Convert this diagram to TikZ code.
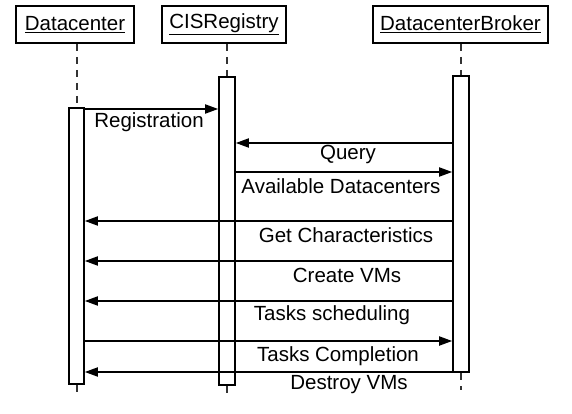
\documentclass[tikz,border=0pt]{standalone}
\usepackage{fontspec}
\setmainfont{Liberation Sans}
\usetikzlibrary{arrows.meta}
\begin{document}
\begin{tikzpicture}[x=1pt,y=-1pt,
  every node/.style={font=\fontsize{20.5}{24}\selectfont, inner sep=0pt},
  head/.style={draw, line width=2.6pt, minimum height=37pt},
  act/.style={draw, line width=1.6pt, fill=white, minimum width=15pt},
  life/.style={line width=1.2pt, dash pattern=on 7pt off 6pt, draw=black!80},
  msg/.style={line width=1.8pt, -{Triangle[length=13pt,width=9pt]}},
  lbl/.style={anchor=base}]
\useasboundingbox (0,0) rectangle (572,414);
% headers
\node[head, minimum width=118pt] (dch) at (75,24.5) {\underline{Datacenter}};
\node[head, minimum width=124pt] (cish) at (224,24.5) {\underline{CISRegistry}};
\node[head, minimum width=175pt] (brh) at (460.5,24.5) {\underline{DatacenterBroker}};
% lifeline ends
\coordinate (dcend) at (77,396);
\coordinate (cisend) at (227,393);
\coordinate (brend) at (461,390);
% lifelines
\draw[life] (77,44) -- (77,108);
\draw[life] (227,44) -- (227,77);
\draw[life] (461,44) -- (461,76);
\draw[life] (77,385) -- (dcend);
\draw[life] (227,386) -- (cisend);
\draw[life] (461,373) -- (brend);
% activations
\node[act, minimum height=276pt] (dca) at (76.5,246) {};
\node[act, minimum width=16pt, minimum height=308pt] (cisa) at (227,231) {};
\node[act, minimum width=16pt, minimum height=296pt] (bra) at (461,224) {};
% message levels
\coordinate (y1) at (0,109);
\coordinate (y2) at (0,143);
\coordinate (y3) at (0,172);
\coordinate (y4) at (0,221);
\coordinate (y5) at (0,261);
\coordinate (y6) at (0,301);
\coordinate (y7) at (0,341);
\coordinate (y8) at (0,372);
% messages
\draw[msg] (dca.east |- y1) -- (cisa.west |- y1);
\draw[msg] (bra.west |- y2) -- (cisa.east |- y2);
\draw[msg] (cisa.east |- y3) -- (bra.west |- y3);
\draw[msg] (bra.west |- y4) -- (dca.east |- y4);
\draw[msg] (bra.west |- y5) -- (dca.east |- y5);
\draw[msg] (bra.west |- y6) -- (dca.east |- y6);
\draw[msg] (dca.east |- y7) -- (bra.west |- y7);
\draw[msg] (bra.west |- y8) -- (dca.east |- y8);
% labels
\node[lbl] (l1) at (149,128) {Registration};
\node[lbl] (l2) at (348,160) {Query};
\node[lbl] (l3) at (341,193) {Available Datacenters};
\node[lbl] (l4) at (346,242) {Get Characteristics};
\node[lbl] (l5) at (347,282) {Create VMs};
\node[lbl] (l6) at (332,320) {Tasks scheduling};
\node[lbl] (l7) at (338,361) {Tasks Completion};
\node[lbl] (l8) at (349,389) {Destroy VMs};
\end{tikzpicture}
\end{document}
